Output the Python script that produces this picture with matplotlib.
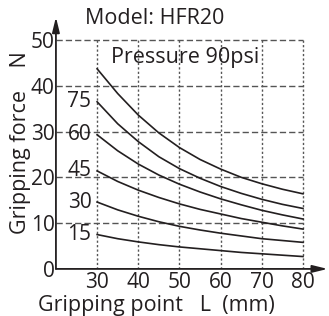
import matplotlib.pyplot as plt

# gripping point L (mm)
grip_point = [30, 35, 40, 45, 50, 55, 60, 65, 70, 75, 80]

# gripping force (N) per pressure (psi)
force_90 = [43.7, 38.3, 33.6, 29.7, 26.5, 23.9, 21.8, 20.0, 18.6, 17.4, 16.4]
force_75 = [36.5, 31.7, 27.8, 24.5, 21.9, 19.8, 18.0, 16.5, 15.2, 14.1, 13.2]
force_60 = [29.3, 25.8, 22.9, 20.5, 18.5, 16.8, 15.3, 14.0, 12.8, 11.8, 10.9]
force_45 = [21.4, 19.1, 17.2, 15.6, 14.2, 13.0, 12.0, 11.0, 10.2, 9.4, 8.7]
force_30 = [14.6, 12.9, 11.5, 10.3, 9.3, 8.5, 7.8, 7.2, 6.6, 6.2, 5.8]
force_15 = [7.5, 6.6, 5.9, 5.3, 4.8, 4.4, 4.0, 3.6, 3.3, 3.0, 2.7]

series = [(90, force_90), (75, force_75), (60, force_60),
          (45, force_45), (30, force_30), (15, force_15)]

x_ticks = [30, 40, 50, 60, 70, 80]
y_ticks = [0, 10, 20, 30, 40, 50]

ink = '#231f20'
grid_col = '#555555'
plt.rcParams['font.family'] = ['Open Sans', 'DejaVu Sans']

fig = plt.figure(figsize=(3.29, 3.16), dpi=100)
ax = fig.add_axes([0.170, 0.149, 0.826, 0.797])
ax.set_xlim(20, 86)
ax.set_ylim(0, 55)

# grid, only inside the 20..80 x 0..50 box
for y in y_ticks[1:]:
    ax.plot([20, 80], [y, y], color=grid_col, lw=1.0, ls=(0, (4.5, 2.2)))
for x in x_ticks:
    ax.plot([x, x], [0, 50], color=grid_col, lw=1.0, ls=(0, (1.6, 1.6)))

for p, f in series:
    ax.plot(grip_point, f, color=ink, lw=1.2)
    if p != 90:
        ax.text(28.6, f[0], str(p), ha='right', va='center', fontsize=15, color=ink)

for s in ax.spines.values():
    s.set_visible(False)

# axes drawn as arrows
ax.annotate('', xy=(1.0, 0), xytext=(0, 0), xycoords='axes fraction',
            arrowprops=dict(arrowstyle='-|>,head_length=0.9,head_width=0.22',
                            color=ink, lw=1.3, shrinkA=0, shrinkB=0))
ax.annotate('', xy=(0, 1.0), xytext=(0, 0), xycoords='axes fraction',
            arrowprops=dict(arrowstyle='-|>,head_length=0.9,head_width=0.22',
                            color=ink, lw=1.3, shrinkA=0, shrinkB=0))

ax.set_xticks(x_ticks)
ax.set_yticks(y_ticks)
ax.tick_params(length=0, labelsize=15, labelcolor=ink, pad=1)
ax.tick_params(axis='x', pad=2)

ax.set_xlabel('Gripping point   L  (mm)', fontsize=15.5, color=ink)
ax.xaxis.set_label_coords(0.371, -0.105)
ax.set_ylabel('Gripping force    N', fontsize=15.5, color=ink, labelpad=0)

ax.text(44.0, 54.6, 'Model: HFR20', ha='center', va='center', fontsize=15.5, color=ink, clip_on=False)
ax.text(51.4, 46.2, 'Pressure 90psi', ha='center', va='center', fontsize=15.5, color=ink)

fig.savefig('out.png', dpi=100)
